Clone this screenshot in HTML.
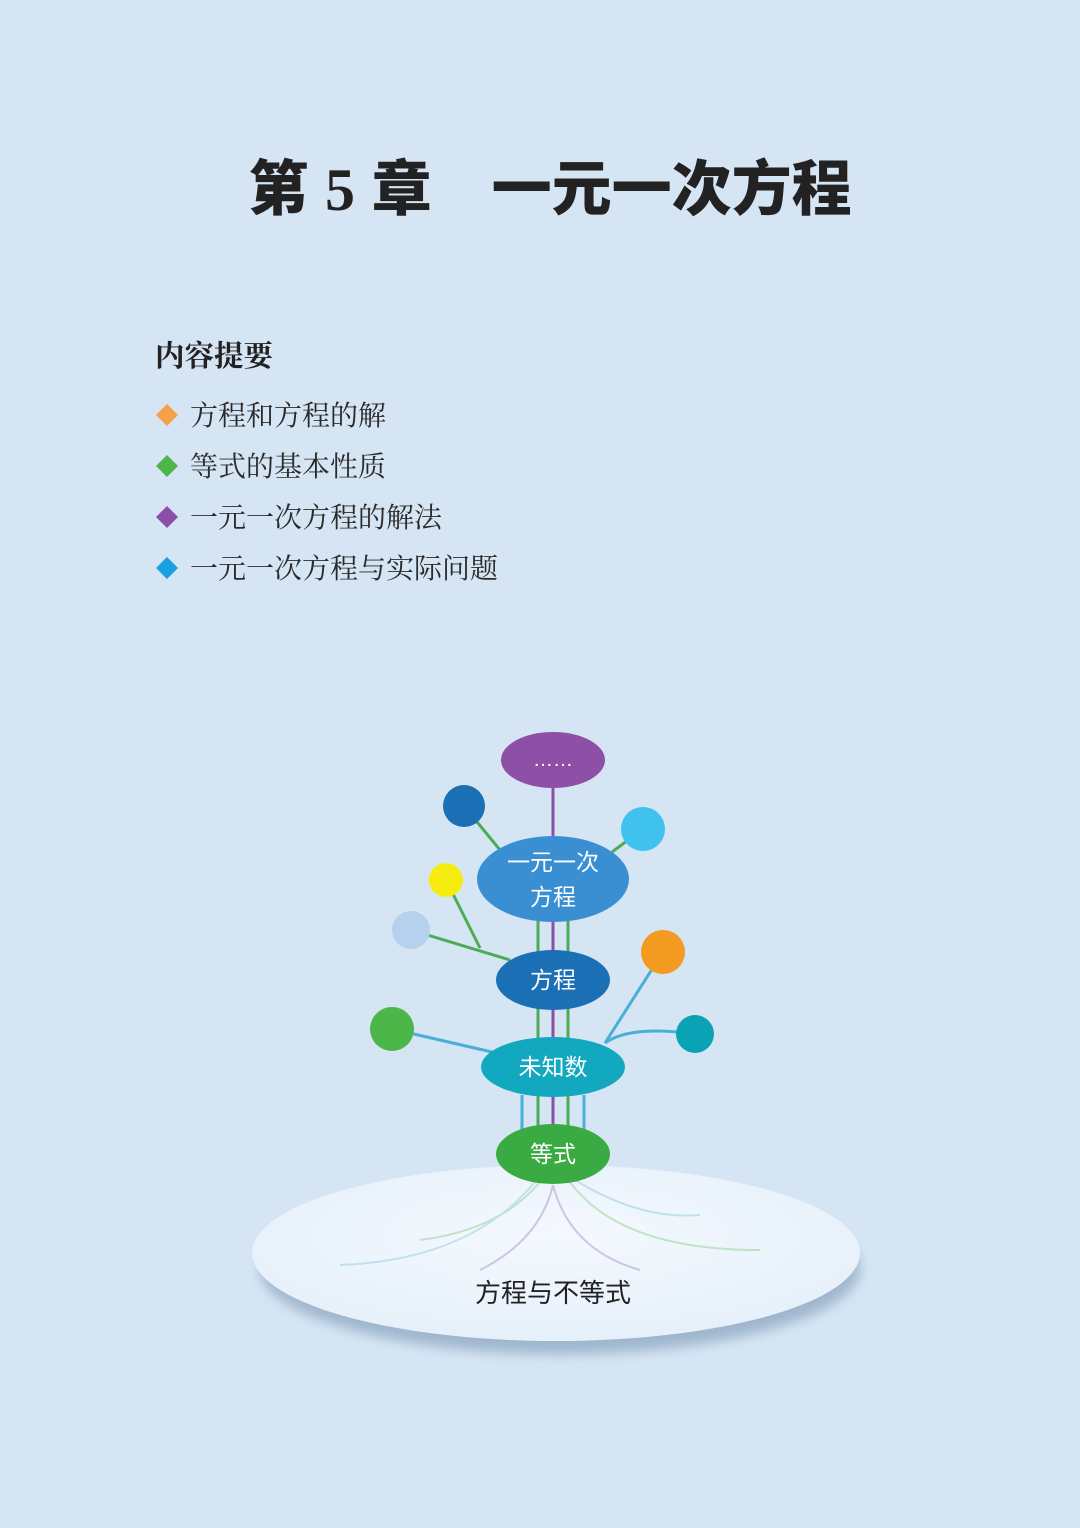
<!DOCTYPE html>
<html><head><meta charset="utf-8"><style>
html,body{margin:0;padding:0;}
body{width:1080px;height:1528px;background:#d5e5f4;position:relative;overflow:hidden;}
</style></head><body>
<svg width="1080" height="1528" style="position:absolute;left:0;top:0">
<defs>
<radialGradient id="bg" cx="50%" cy="40%" r="60%"><stop offset="0" stop-color="#f4f9fe"/><stop offset="1" stop-color="#e6f0fa"/></radialGradient>
<filter id="sh" x="-10%" y="-20%" width="120%" height="150%"><feGaussianBlur stdDeviation="6"/></filter>
</defs>
<text x="550" y="210" text-anchor="middle" font-family="Liberation Sans, Noto Sans CJK SC, sans-serif" font-weight="900" font-size="60" fill="#222">第 <tspan font-family="Liberation Serif, serif" font-weight="bold">5</tspan> 章　一元一次方程</text>
<text x="155" y="366" font-family="Liberation Serif, Noto Serif CJK SC, serif" font-weight="bold" font-size="29.5" fill="#222">内容提要</text>
<g font-family="Liberation Serif, Noto Serif CJK SC, serif" font-size="28" fill="#2a2a2a">
<path d="M167 404 L178 415 L167 426 L156 415Z" fill="#f5a04a"/><text x="190" y="425">方程和方程的解</text>
<path d="M167 455 L178 466 L167 477 L156 466Z" fill="#4cb748"/><text x="190" y="476">等式的基本性质</text>
<path d="M167 506 L178 517 L167 528 L156 517Z" fill="#8a4fa8"/><text x="190" y="527">一元一次方程的解法</text>
<path d="M167 557 L178 568 L167 579 L156 568Z" fill="#1aa0e0"/><text x="190" y="578">一元一次方程与实际问题</text>
</g>
<ellipse cx="560" cy="1268" rx="300" ry="86" fill="#9fb6cc" filter="url(#sh)"/>
<ellipse cx="556" cy="1253" rx="304" ry="88" fill="url(#bg)"/>
<g fill="none" stroke-width="2" opacity="0.55">
<path d="M540 1182 Q500 1230 420 1240" stroke="#9cd39a"/>
<path d="M535 1182 Q470 1260 340 1265" stroke="#9ad0e0"/>
<path d="M553 1185 Q540 1240 480 1270" stroke="#b89cd0"/>
<path d="M553 1185 Q570 1250 640 1270" stroke="#b89cd0"/>
<path d="M570 1182 Q620 1250 760 1250" stroke="#9cd39a"/>
<path d="M575 1180 Q640 1220 700 1215" stroke="#9ad0e0"/>
</g>
<g stroke-width="3" fill="none">
<line x1="553" y1="788" x2="553" y2="1160" stroke="#8a4fa8"/>
<line x1="538" y1="920" x2="538" y2="1150" stroke="#4cab55"/>
<line x1="568" y1="920" x2="568" y2="1150" stroke="#4cab55"/>
<line x1="522" y1="1095" x2="522" y2="1150" stroke="#4aaed8"/>
<line x1="584" y1="1095" x2="584" y2="1150" stroke="#4aaed8"/>
<line x1="464" y1="806" x2="500" y2="850" stroke="#4cab55"/>
<line x1="643" y1="829" x2="612" y2="852" stroke="#4cab55"/>
<line x1="446" y1="880" x2="480" y2="948" stroke="#4cab55"/>
<line x1="411" y1="930" x2="510" y2="960" stroke="#4cab55"/>
<line x1="392" y1="1029" x2="492" y2="1052" stroke="#4aaed8"/>
<line x1="663" y1="952" x2="605" y2="1043" stroke="#4aaed8"/>
<path d="M605 1043 Q630 1025 695 1034" stroke="#4aaed8"/>
</g>
<ellipse cx="553" cy="760" rx="52" ry="28" fill="#8e4fa6"/>
<text x="553" y="766" text-anchor="middle" font-family="Liberation Sans, sans-serif" font-size="20" fill="#fff">……</text>
<circle cx="464" cy="806" r="21" fill="#1a6fb5"/>
<circle cx="643" cy="829" r="22" fill="#3fc2ee"/>
<circle cx="446" cy="880" r="17" fill="#f7ec10"/>
<circle cx="411" cy="930" r="19" fill="#b5d1ee"/>
<circle cx="663" cy="952" r="22" fill="#f39a20"/>
<circle cx="392" cy="1029" r="22" fill="#4cb748"/>
<circle cx="695" cy="1034" r="19" fill="#0aa3b5"/>
<ellipse cx="553" cy="879" rx="76" ry="43" fill="#3a8fd2"/>
<ellipse cx="553" cy="980" rx="57" ry="30" fill="#1a6fb5"/>
<ellipse cx="553" cy="1067" rx="72" ry="30" fill="#12a8c0"/>
<ellipse cx="553" cy="1154" rx="57" ry="30" fill="#3aab42"/>
<g font-family="Liberation Sans, Noto Sans CJK SC, sans-serif" font-size="23" fill="#fff" text-anchor="middle">
<text x="553" y="870">一元一次</text>
<text x="553" y="905">方程</text>
<text x="553" y="988">方程</text>
<text x="553" y="1075">未知数</text>
<text x="553" y="1162">等式</text>
</g>
<text x="553" y="1302" text-anchor="middle" font-family="Liberation Sans, Noto Sans CJK SC, sans-serif" font-size="26" fill="#222">方程与不等式</text>
</svg>
</body></html>
